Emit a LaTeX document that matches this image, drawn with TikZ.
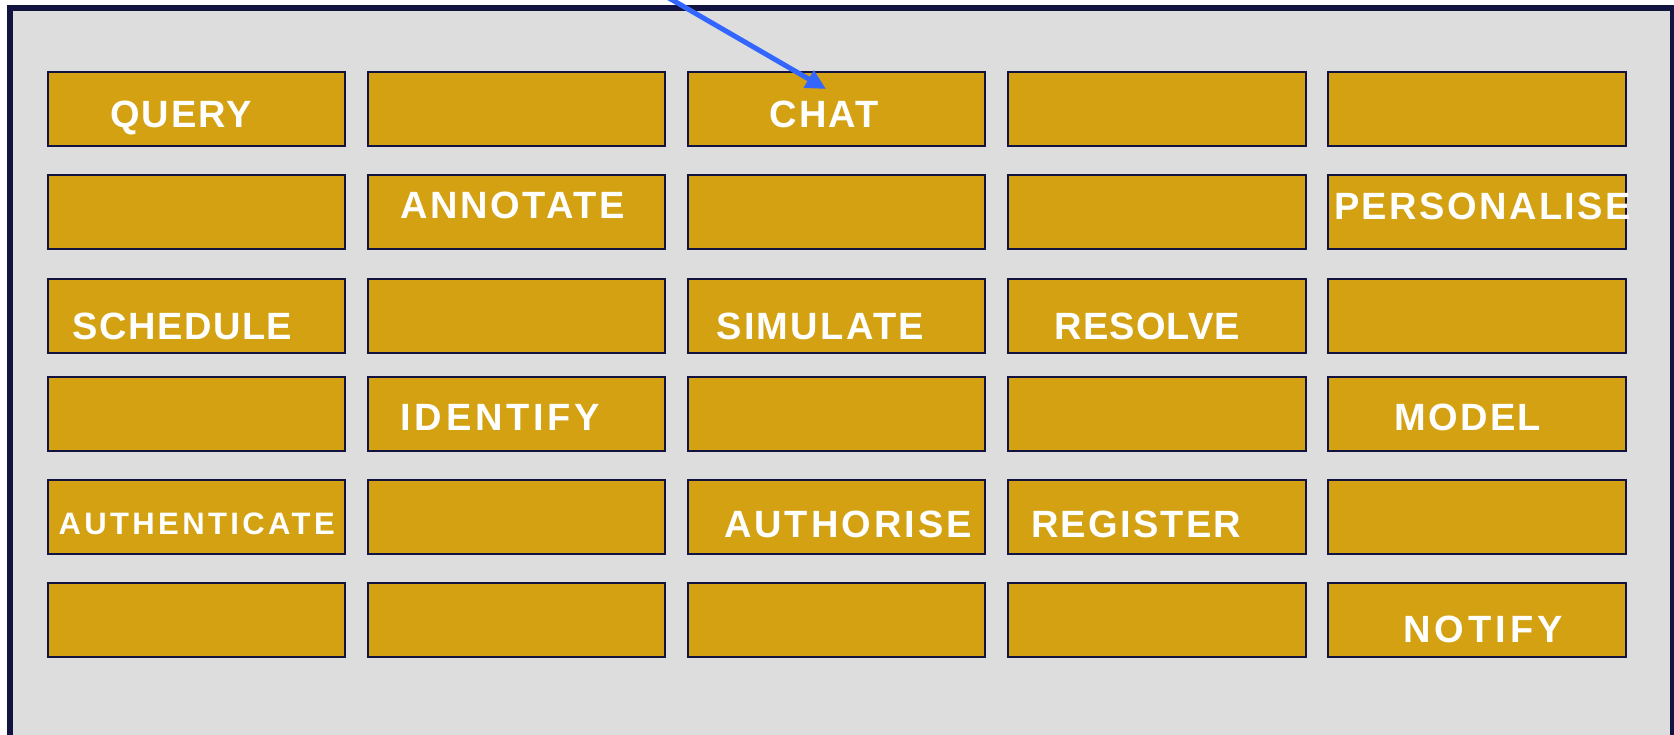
\documentclass[tikz,border=0pt]{standalone}
\usepackage{fontspec}
\setmainfont{Liberation Sans}
\usetikzlibrary{arrows.meta}

\definecolor{panelgrey}{HTML}{DDDDDD}
\definecolor{navy}{HTML}{13133F}
\definecolor{tilefill}{HTML}{D3A112}
\definecolor{pointer}{HTML}{3366FF}

% bold white caption: size in pt, letter spacing in percent of the size
\newcommand\capfont[2]{\fontsize{#1}{#1}\selectfont\bfseries\addfontfeatures{LetterSpace=#2}}

\tikzset{
  cell/.style={draw=navy, line width=2pt, fill=tilefill, minimum width=297.5pt,
    minimum height=74pt, inner sep=0pt, outer sep=0pt},
  word/.style={text=white, anchor=base west, inner sep=0pt, outer sep=0pt},
  pointerline/.style={draw=pointer, line width=5pt,
    -{Triangle[length=20pt,width=19pt]}}
}

\begin{document}
\begin{tikzpicture}[x=1pt,y=-1pt]
  \clip (0,0) rectangle (1674,734);
  \useasboundingbox (0,0) rectangle (1674,734);
  \fill[white] (0,0) rectangle (1674,734);

  % outer panel
  \draw[navy, line width=6pt, fill=panelgrey] (10,8) rectangle (1673,742);

  % grid of tiles: columns and rows
  \foreach \c/\x in {1/196.5, 2/516.5, 3/836.5, 4/1157, 5/1477} {
    \foreach \r/\y in {1/109.3, 2/212, 3/315.5, 4/413.8, 5/516.8, 6/619.8} {
      \node[cell] (b\r\c) at (\x,\y) {};
    }
  }

  % captions
  \node[word, font=\capfont{38}{5}]   (t-query)    at (110.5,127) {QUERY};
  \node[word, font=\capfont{38}{6}]   (t-chat)     at (769.5,127) {CHAT};
  \node[word, font=\capfont{38}{7}]   (t-annotate) at (400.5,218) {ANNOTATE};
  \node[word, font=\capfont{38}{6.5}] (t-personal) at (1334,219) {PERSONALISE};
  \node[word, font=\capfont{38}{4}]   (t-schedule) at (72.5,339) {SCHEDULE};
  \node[word, font=\capfont{38}{6}]   (t-simulate) at (716.5,339) {SIMULATE};
  \node[word, font=\capfont{38}{3}]   (t-resolve)  at (1054.5,339) {RESOLVE};
  \node[word, font=\capfont{38}{10}]  (t-identify) at (400.5,430) {IDENTIFY};
  \node[word, font=\capfont{38}{6}]   (t-model)    at (1394.5,430) {MODEL};
  \node[word, font=\capfont{31}{11}]  (t-authent)  at (58.5,534) {AUTHENTICATE};
  \node[word, font=\capfont{38}{8}]   (t-authoris) at (724,537) {AUTHORISE};
  \node[word, font=\capfont{38}{6}]   (t-register) at (1031,537) {REGISTER};
  \node[word, font=\capfont{38}{11}]  (t-notify)   at (1403,642) {NOTIFY};

  % pointer coming in from above onto the CHAT tile
  \coordinate (pin) at (662,-6);
  \coordinate (chattip) at (826,89);
  \draw[pointerline] (pin) -- (chattip);
\end{tikzpicture}
\end{document}
